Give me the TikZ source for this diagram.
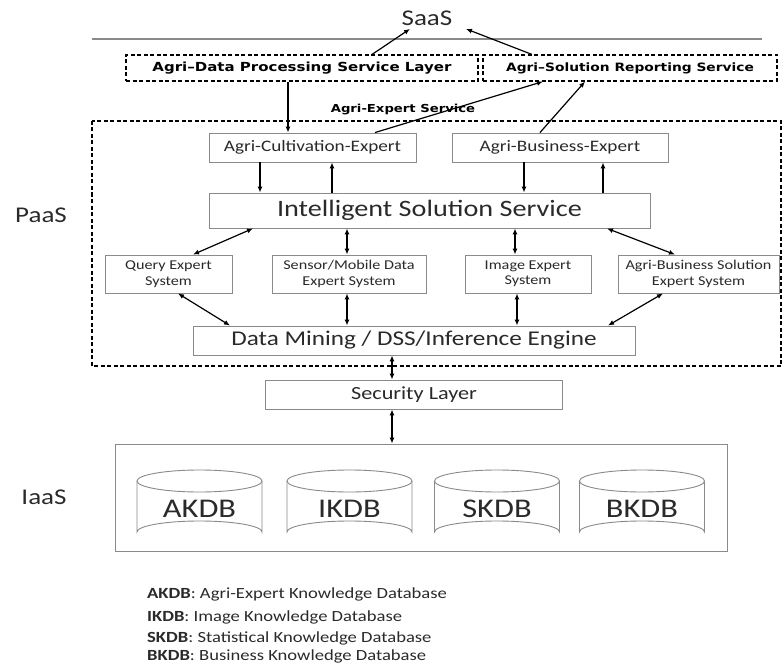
\documentclass[tikz,border=0pt]{standalone}
\usepackage{fontspec}
\setmainfont[FakeStretch=1.2]{Carlito}
\newfontfamily\hdrfont[FakeStretch=1.2]{DejaVu Sans}
\usetikzlibrary{arrows.meta,positioning}
\definecolor{boxgray}{HTML}{8A8A8A}
\definecolor{txtgray}{HTML}{2A2A2A}
\tikzset{
    box/.style={rectangle, draw=boxgray, line width=0.9pt, fill=white,
        text=txtgray, align=center, inner sep=0pt},
    midbox/.style={box, minimum height=29pt, font=\fontsize{16}{18}\selectfont},
    bigbox/.style={box, font=\fontsize{23.5}{26}\selectfont},
    smallbox/.style={box, minimum height=38pt, font=\fontsize{13.5}{15.5}\selectfont},
    dbox/.style={rectangle, draw=black, dash pattern=on 4pt off 2.5pt,
        line width=1.1pt, minimum height=26pt, inner sep=0pt,
        font=\hdrfont\bfseries\fontsize{12.5}{15}\selectfont},
    dbline/.style={draw=boxgray, line width=0.9pt},
    dblabel/.style={text=txtgray, inner sep=0pt, font=\fontsize{27}{30}\selectfont},
    layer/.style={text=txtgray, font=\fontsize{22.5}{25}\selectfont},
    legend/.style={anchor=west, inner sep=0pt, text=txtgray,
        font=\fontsize{15.5}{17}\selectfont},
    arrow/.style={-{Latex[length=6pt,width=5pt]}, line width=1.2pt},
    darrow/.style={{Latex[length=6pt,width=5pt]}-{Latex[length=6pt,width=5pt]}, line width=1.2pt}
}

\begin{document}
\begin{tikzpicture}[x=1pt,y=-1pt]
    \useasboundingbox (0,0) rectangle (782,666);
    \draw[boxgray, line width=1.3pt] (92,39) -- (762,39);
    \draw[line width=1.1pt, dash pattern=on 4pt off 2.5pt] (92,121) rectangle (781,366);

    \node[layer] (saas) at (427,18) {SaaS};
    \node[layer] (paas) at (41,215) {PaaS};
    \node[layer] (iaaslabel) at (44,497) {IaaS};

    \node[dbox, minimum width=352pt] (dproc) at (302,68) {Agri–Data Processing Service Layer};
    \node[dbox, minimum width=294pt, font=\hdrfont\bfseries\fontsize{11.5}{14}\selectfont] (report) at (630,68) {Agri–Solution Reporting Service};
    \node[font=\hdrfont\bfseries\fontsize{11}{13}\selectfont] (expsvc) at (403,110) {Agri-Expert Service};

    \node[midbox, minimum width=207pt] (cult) at (312.5,147.5) {Agri-Cultivation-Expert};
    \node[midbox, minimum width=216pt] (bus) at (560,147.5) {Agri-Business-Expert};
    \node[bigbox, minimum width=441pt, minimum height=35pt] (iss) at (429.5,210.5) {Intelligent Solution Service};

    \node[smallbox, minimum width=127pt] (query) at (168.5,274) {Query Expert\\System};
    \node[smallbox, minimum width=154pt] (sensor) at (349,274) {Sensor/Mobile Data\\Expert System};
    \node[smallbox, minimum width=126pt] (image) at (528,274) {Image Expert\\System};
    \node[smallbox, minimum width=161pt] (agrisol) at (698.5,274) {Agri-Business Solution\\Expert System};

    \node[bigbox, minimum width=442pt, minimum height=29pt, font=\fontsize{21}{24}\selectfont] (dm) at (414,340.5) {Data Mining / DSS/Inference Engine};
    \node[midbox, minimum width=297pt, font=\fontsize{18.5}{21}\selectfont] (sec) at (414,394.5) {Security Layer};

    \node[box, minimum width=612pt, minimum height=107pt] (iaas) at (421,497.5) {};
    \foreach \cx/\lbl in {199.5/AKDB, 349.5/IKDB, 497/SKDB, 642/BKDB} {
        \draw[dbline] (\cx-62.5,481) -- (\cx-62.5,532)
            arc[start angle=180, end angle=360, x radius=62.5, y radius=11]
            -- (\cx+62.5,481);
        \draw[dbline] (\cx,481) ellipse[x radius=62.5, y radius=11];
        \node[dblabel] (\lbl) at (\cx,509) {\lbl};
    }

    \node[legend] (lakdb) at (147,594) {\textbf{AKDB}: Agri-Expert Knowledge Database};
    \node[legend] (likdb) at (147,617) {\textbf{IKDB}: Image Knowledge Database};
    \node[legend] (lskdb) at (147,638) {\textbf{SKDB}: Statistical Knowledge Database};
    \node[legend] (lbkdb) at (147,656.5) {\textbf{BKDB}: Business Knowledge Database};

    \path ([xshift=70pt]dproc.north) edge [arrow] ([xshift=-17pt]saas.south)
        ([xshift=-98pt]report.north) edge [arrow] ([xshift=39pt]saas.south)
        ([xshift=-14pt]dproc.south) edge [arrow] ([xshift=-24.5pt]cult.north)
        ([xshift=62.5pt]cult.north) edge [arrow] ([xshift=-87pt]report.south)
        ([xshift=-20pt]bus.north) edge [arrow] ([xshift=-45pt]report.south);
    \path ([xshift=-52.5pt]cult.south) edge [arrow] ([xshift=-52.5pt]cult.south |- iss.north)
        ([xshift=19.5pt]cult.south |- iss.north) edge [arrow] ([xshift=19.5pt]cult.south)
        ([xshift=-36pt]bus.south) edge [arrow] ([xshift=-36pt]bus.south |- iss.north)
        ([xshift=43pt]bus.south |- iss.north) edge [arrow] ([xshift=43pt]bus.south);
    \path ([xshift=-176.5pt]iss.south) edge [darrow] ([xshift=24.5pt]query.north)
        ([xshift=-2pt]sensor.north) edge [darrow] ([xshift=-2pt]sensor.north |- iss.south)
        ([xshift=-13pt]image.north) edge [darrow] ([xshift=-13pt]image.north |- iss.south)
        ([xshift=177.5pt]iss.south) edge [darrow] ([xshift=-23.5pt]agrisol.north);
    \path ([xshift=9.5pt]query.south) edge [darrow] ([xshift=-184pt]dm.north)
        ([xshift=-2pt]sensor.south) edge [darrow] ([xshift=-2pt]sensor.south |- dm.north)
        ([xshift=-11pt]image.south) edge [darrow] ([xshift=-11pt]image.south |- dm.north)
        ([xshift=-35.5pt]agrisol.south) edge [darrow] ([xshift=194pt]dm.north);
    \path ([xshift=-22pt]dm.south) edge [darrow] ([xshift=-22pt]sec.north)
        ([xshift=-22pt]sec.south) edge [darrow] ([xshift=-29pt]iaas.north);
\end{tikzpicture}
\end{document}
